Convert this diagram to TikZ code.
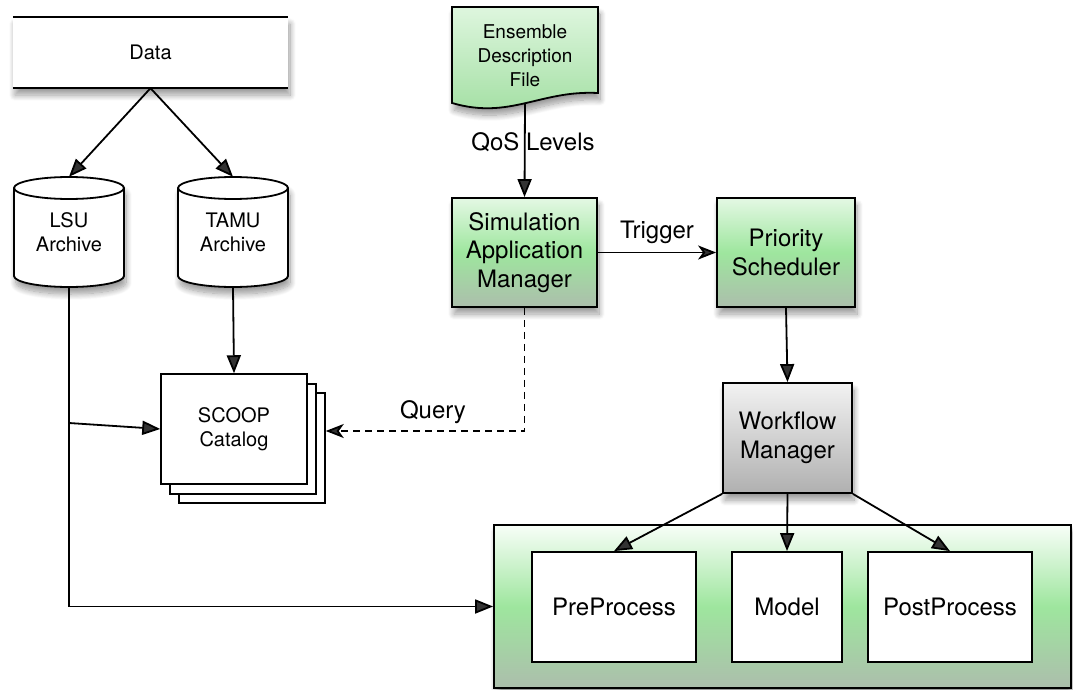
\documentclass[tikz,border=0pt]{standalone}
\usepackage{fontspec}
\setmainfont{TeX Gyre Heros}
\usetikzlibrary{arrows.meta,shadows.blur}
\definecolor{gtop}{RGB}{228,248,228}
\definecolor{gmid}{RGB}{158,230,158}
\definecolor{gbot}{RGB}{172,190,172}
\definecolor{etop}{RGB}{222,246,222}
\definecolor{ebot}{RGB}{160,222,160}
\definecolor{wtop}{RGB}{242,242,242}
\definecolor{wbot}{RGB}{176,176,176}
\definecolor{ctop}{RGB}{248,254,248}
\begin{document}
\begin{tikzpicture}[x=1pt,y=-1pt,
  ln/.style={line width=1.8pt, line join=miter},
  sh/.style={blur shadow={shadow xshift=2pt, shadow yshift=-7pt, shadow blur radius=6pt, shadow blur steps=12}},
  smalltxt/.style={font=\fontsize{20}{25}\selectfont, align=center},
  bigtxt/.style={font=\fontsize{24}{28.5}\selectfont, align=center},
  greenbox/.style={draw, ln, sh, top color=gtop, bottom color=gbot, middle color=gmid, minimum height=109, inner sep=0pt, bigtxt},
  whitebox/.style={draw, ln, fill=white, inner sep=0pt},
  tri/.style={ln, -{Triangle[length=18pt,width=14pt]}},
  stl/.style={ln, -{Stealth[length=18pt,width=14pt,inset=5pt]}},
  lbl/.style={bigtxt, inner sep=1pt}
]
\useasboundingbox (0,0) rectangle (1073,690);

% Data store
\node[fill=white, sh, minimum width=275, minimum height=71, inner sep=0pt, smalltxt] (data) at (150.5,52.5) {Data};
\draw[ln] (data.north west) -- (data.north east);
\draw[ln] (data.south west) -- (data.south east);

% Archives (cylinders)
\path[ln, draw, fill=white, sh] (14,188) arc[start angle=180, end angle=360, x radius=55, y radius=11]
  -- (124,276) arc[start angle=0, end angle=180, x radius=55, y radius=11] -- cycle;
\draw[ln] (14,188) arc[start angle=180, end angle=0, x radius=55, y radius=11];
\node[minimum width=110, minimum height=110, inner sep=0pt, smalltxt] (lsu) at (69,232) {LSU\\[-1pt]Archive};

\path[ln, draw, fill=white, sh] (178,188) arc[start angle=180, end angle=360, x radius=55, y radius=11]
  -- (288,276) arc[start angle=0, end angle=180, x radius=55, y radius=11] -- cycle;
\draw[ln] (178,188) arc[start angle=180, end angle=0, x radius=55, y radius=11];
\node[minimum width=110, minimum height=110, inner sep=0pt, smalltxt] (tamu) at (233,232) {TAMU\\[-1pt]Archive};

% SCOOP catalog (stacked)
\node[whitebox, line width=1.5pt, minimum width=146, minimum height=110] (scoop3) at (252,448) {};
\node[whitebox, line width=1.5pt, minimum width=146, minimum height=110] (scoop2) at (243,439) {};
\node[whitebox, line width=1.5pt, minimum width=146, minimum height=110, smalltxt] (scoop) at (234,429) {SCOOP\\[-1pt]Catalog};

% Ensemble description file
\path[ln, draw, sh, top color=etop, bottom color=ebot] (452,7) -- (598,7) -- (598,93)
  .. controls (540,90) and (510,120) .. (452,103) -- cycle;
\node[minimum width=146, minimum height=97, inner sep=0pt, font=\fontsize{19}{24}\selectfont, align=center] (edf) at (525,55.5) {Ensemble\\Description\\File};

% Managers
\node[greenbox, minimum width=145] (sam) at (524.5,252.5) {Simulation\\Application\\Manager};
\node[greenbox, minimum width=138] (ps) at (786,252.5) {Priority\\Scheduler};
\node[draw, ln, sh, top color=wtop, bottom color=wbot, minimum width=129, minimum height=110, inner sep=0pt, bigtxt] (wm) at (787.5,438) {Workflow\\Manager};

% Workflow container
\node[draw, ln, sh, top color=ctop, bottom color=gbot, middle color=gmid, minimum width=577, minimum height=163] (wf) at (782.5,606.5) {};
\node[whitebox, minimum width=164, minimum height=110, bigtxt] (pre) at (614,607) {PreProcess};
\node[whitebox, minimum width=110, minimum height=110, bigtxt] (model) at (787,607) {Model};
\node[whitebox, minimum width=164, minimum height=110, bigtxt] (post) at (950,607) {PostProcess};

% Connectors
\draw[tri] (data.south) -- (lsu.north);
\draw[tri] (data.south) -- (tamu.north);
\draw[tri] (tamu.south) -- (scoop.north);
\coordinate (lsuq) at (69,423);
\draw[tri] (lsuq) -- (scoop.west);
\draw[tri] (lsu.south) |- (wf.west);
\draw[tri] (edf.south) -- (sam.north);
\node[lbl] (qos) at (533,142) {QoS Levels};
\draw[stl] (sam.east) -- (ps.west);
\node[lbl] (trig) at (657,232) {Trigger};
\coordinate (qc) at (524.5,431);
\draw[stl, dash pattern=on 7pt off 5pt] (sam.south) -- (qc) -- (qc -| scoop3.east);
\node[lbl] (query) at (433,412) {Query};
\draw[tri] (ps.south) -- (wm.north);
\draw[tri] (wm.south west) -- (pre.north);
\draw[tri] (wm.south) -- (model.north);
\draw[tri] (wm.south east) -- (post.north);
\end{tikzpicture}
\end{document}
